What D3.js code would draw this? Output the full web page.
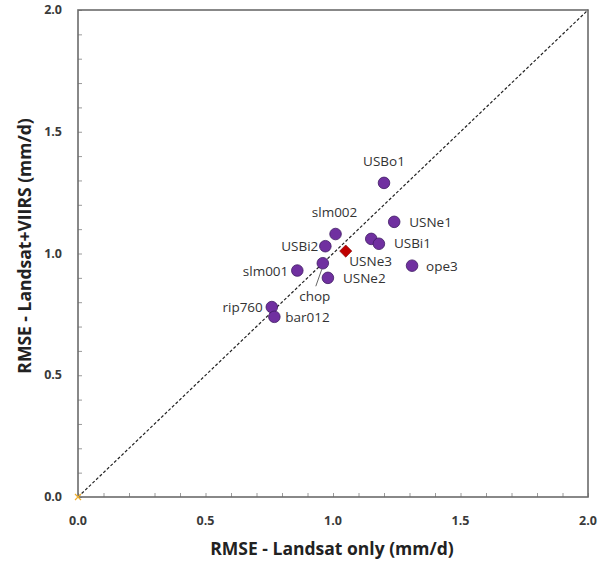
<!DOCTYPE html>
<html>
<head>
<meta charset="utf-8">
<script src="https://cdn.jsdelivr.net/npm/d3@7"></script>
<style>
  body { margin: 0; background: #fff; }
  svg { display: block; font-family: "Open Sans", "Liberation Sans", sans-serif; }
</style>
</head>
<body>
<svg id="chart" width="598" height="563"></svg>
<script>
// Site RMSE values (mm/d)
const sites = ["USBo1", "USNe1", "slm002", "USBi2", "USNe3", "USBi1", "chop", "USNe2", "slm001", "ope3", "rip760", "bar012"];
const rmseLandsat = [1.20, 1.24, 1.01, 0.97, 1.15, 1.18, 0.96, 0.98, 0.86, 1.31, 0.76, 0.77];
const rmseLandsatViirs = [1.29, 1.13, 1.08, 1.03, 1.06, 1.04, 0.96, 0.90, 0.93, 0.95, 0.78, 0.74];
// Mean of all sites
const meanLandsat = [1.05];
const meanLandsatViirs = [1.01];
const tickValues = [0.0, 0.5, 1.0, 1.5, 2.0];

const svg = d3.select("#chart");
const plotLeft = 78, plotRight = 588, plotTop = 10, plotBottom = 497;

const x = d3.scaleLinear().domain([0, 2]).range([plotLeft, plotRight]);
const y = d3.scaleLinear().domain([0, 2]).range([plotBottom, plotTop]);

// Minor ticks every 0.1 pointing inward
const minor = d3.range(0, 21).map(i => i / 10);
const axisColor = "#6b6b6b";

const xAxis = svg.append("g").attr("transform", `translate(0,${plotBottom})`)
  .call(d3.axisBottom(x).tickValues(minor).tickSize(-4).tickFormat(""));
const yAxis = svg.append("g").attr("transform", `translate(${plotLeft},0)`)
  .call(d3.axisLeft(y).tickValues(minor).tickSize(-4).tickFormat(""));
[xAxis, yAxis].forEach(g => {
  g.select(".domain").remove();
  g.selectAll(".tick line").attr("stroke", "#9a9a9a").attr("stroke-width", 1);
});

// Plot frame
svg.append("rect")
  .attr("x", plotLeft).attr("y", plotTop)
  .attr("width", plotRight - plotLeft).attr("height", plotBottom - plotTop)
  .attr("fill", "none").attr("stroke", axisColor).attr("stroke-width", 1.6);

// Tick labels
svg.append("g").selectAll("text").data(tickValues).join("text")
  .attr("x", d => x(d)).attr("y", plotBottom + 28)
  .attr("text-anchor", "middle")
  .attr("font-size", 12.5).attr("font-weight", "bold").attr("fill", "#3a3a3a")
  .text(d => d.toFixed(1));
svg.append("g").selectAll("text").data(tickValues).join("text")
  .attr("x", plotLeft - 16).attr("y", d => y(d) + 4)
  .attr("text-anchor", "end")
  .attr("font-size", 12.5).attr("font-weight", "bold").attr("fill", "#3a3a3a")
  .text(d => d.toFixed(1));

// Axis titles
svg.append("text")
  .attr("x", 332).attr("y", 555)
  .attr("text-anchor", "middle")
  .attr("font-size", 17.5).attr("font-weight", "bold").attr("fill", "#222")
  .text("RMSE - Landsat only (mm/d)");
svg.append("text")
  .attr("transform", `translate(31,246) rotate(-90)`)
  .attr("text-anchor", "middle")
  .attr("font-size", 17.5).attr("font-weight", "bold").attr("fill", "#222")
  .text("RMSE - Landsat+VIIRS (mm/d)");

// 1:1 line
svg.append("line")
  .attr("x1", x(0)).attr("y1", y(0)).attr("x2", x(2)).attr("y2", y(2))
  .attr("stroke", "#222").attr("stroke-width", 1.2).attr("stroke-dasharray", "3,2");

// Origin marker
const ox = x(0), oy = y(0);
svg.append("path")
  .attr("d", `M${ox - 3},${oy - 3}L${ox + 3},${oy + 3}M${ox - 3},${oy + 3}L${ox + 3},${oy - 3}`)
  .attr("stroke", "#f0b030").attr("stroke-width", 1.2);

const pts = sites.map((s, i) => ({ name: s, lx: rmseLandsat[i], ly: rmseLandsatViirs[i] }));

// Label placement relative to each point
const labelPos = {
  USBo1: { dx: 0, dy: -17, anchor: "middle" },
  USNe1: { dx: 15, dy: 5, anchor: "start" },
  slm002: { dx: -1, dy: -17, anchor: "middle" },
  USBi2: { dx: -7, dy: 5, anchor: "end" },
  USNe3: { dx: -22, dy: 27, anchor: "start" },
  USBi1: { dx: 15, dy: 4, anchor: "start" },
  chop: { dx: -8, dy: 38, anchor: "middle" },
  USNe2: { dx: 15, dy: 5, anchor: "start" },
  slm001: { dx: -9, dy: 5, anchor: "end" },
  ope3: { dx: 14, dy: 5, anchor: "start" },
  rip760: { dx: -9, dy: 5, anchor: "end" },
  bar012: { dx: 11, dy: 5, anchor: "start" }
};

// Leader line for chop
const chop = pts.find(p => p.name === "chop");
svg.append("line")
  .attr("x1", x(chop.lx) - 1).attr("y1", y(chop.ly) + 6)
  .attr("x2", x(chop.lx) - 7).attr("y2", y(chop.ly) + 23)
  .attr("stroke", "#666").attr("stroke-width", 1);

svg.append("g").selectAll("circle").data(pts).join("circle")
  .attr("cx", d => x(d.lx)).attr("cy", d => y(d.ly)).attr("r", 5.8)
  .attr("fill", "#7030A0").attr("stroke", "#3f1a63").attr("stroke-width", 0.8);

// Mean marker
svg.append("path")
  .attr("d", d3.symbol().type(d3.symbolDiamond2).size(95)())
  .attr("transform", `translate(${x(meanLandsat[0])},${y(meanLandsatViirs[0])})`)
  .attr("fill", "#C00000").attr("stroke", "#7a0000").attr("stroke-width", 0.6);

svg.append("g").selectAll("text").data(pts).join("text")
  .attr("x", d => x(d.lx) + labelPos[d.name].dx)
  .attr("y", d => y(d.ly) + labelPos[d.name].dy)
  .attr("text-anchor", d => labelPos[d.name].anchor)
  .attr("font-size", 13.5).attr("fill", "#333")
  .text(d => d.name);
</script>
</body>
</html>
